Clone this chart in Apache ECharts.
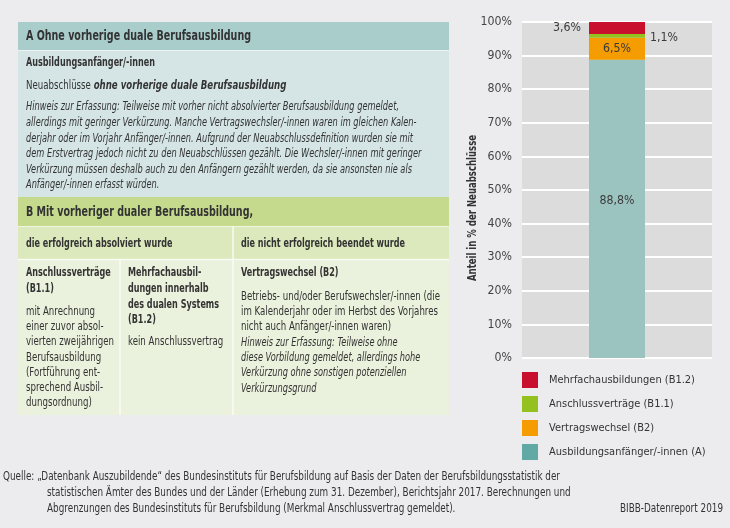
<!DOCTYPE html>
<html><head><meta charset="utf-8">
<script src="https://cdn.jsdelivr.net/npm/echarts@6/dist/echarts.min.js"></script>
<style>html,body{margin:0;padding:0;background:#ececee;}#c{width:730px;height:528px;}</style>
</head><body><div id="c"></div>
<script>
// ---- data ----
const categories = ['2017'];
const seriesNames = ['Ausbildungsanfänger/-innen (A)', 'Vertragswechsel (B2)', 'Anschlussverträge (B1.1)', 'Mehrfachausbildungen (B1.2)'];
const shareA = [88.8];
const shareB2 = [6.5];
const shareB11 = [1.1];
const shareB12 = [3.6];
const yTickStep = 10;
const yAxisTitle = 'Anteil in % der Neuabschlüsse';

// ---- text content of the table ----
const headA = 'A Ohne vorherige duale Berufsausbildung';
const subA = 'Ausbildungsanfänger/-innen';
const neuA = ['Neuabschlüsse ', 'ohne vorherige duale Berufsausbildung'];
const hinweisA = [
  'Hinweis zur Erfassung: Teilweise mit vorher nicht absolvierter Berufsausbildung gemeldet,',
  'allerdings mit geringer Verkürzung. Manche Vertragswechsler/-innen waren im gleichen Kalen-',
  'derjahr oder im Vorjahr Anfänger/-innen. Aufgrund der Neuabschlussdefinition wurden sie mit',
  'dem Erstvertrag jedoch nicht zu den Neuabschlüssen gezählt. Die Wechsler/-innen mit geringer',
  'Verkürzung müssen deshalb auch zu den Anfängern gezählt werden, da sie ansonsten nie als',
  'Anfänger/-innen erfasst würden.'
];
const headB = 'B Mit vorheriger dualer Berufsausbildung,';
const subB1 = 'die erfolgreich absolviert wurde';
const subB2 = 'die nicht erfolgreich beendet wurde';
const col1Bold = ['Anschlussverträge', '(B1.1)'];
const col1Text = ['mit Anrechnung', 'einer zuvor absol-', 'vierten zweijährigen', 'Berufsausbildung', '(Fortführung ent-', 'sprechend Ausbil-', 'dungsordnung)'];
const col2Bold = ['Mehrfachausbil-', 'dungen innerhalb', 'des dualen Systems', '(B1.2)'];
const col2Text = ['kein Anschlussvertrag'];
const col3Bold = ['Vertragswechsel (B2)'];
const col3Text = ['Betriebs- und/oder Berufswechsler/-innen (die', 'im Kalenderjahr oder im Herbst des Vorjahres', 'nicht auch Anfänger/-innen waren)'];
const col3Ital = ['Hinweis zur Erfassung: Teilweise ohne', 'diese Vorbildung gemeldet, allerdings hohe', 'Verkürzung ohne sonstigen potenziellen', 'Verkürzungsgrund'];
const sourceFirst = 'Quelle: „Datenbank Auszubildende“ des Bundesinstituts für Berufsbildung auf Basis der Daten der Berufsbildungsstatistik der';
const sourceLines = [
  'statistischen Ämter des Bundes und der Länder (Erhebung zum 31. Dezember), Berichtsjahr 2017. Berechnungen und',
  'Abgrenzungen des Bundesinstituts für Berufsbildung (Merkmal Anschlussvertrag gemeldet).'
];
const credit = 'BIBB-Datenreport 2019';

// ---- styling ----
const FF = "'Liberation Sans Narrow','DejaVu Sans Condensed','Roboto Condensed',sans-serif";
const TXT = '#333333';
const colors = {A: '#9bc4c1', B2: '#f59c00', B11: '#95c11f', B12: '#c8102e', Aleg: '#62a8a5'};

// text width measuring (to mimic the condensed original typeface)
const mctx = document.createElement('canvas').getContext('2d');
function mw(font, s) { mctx.font = font; return mctx.measureText(s).width; }
const F = {
  head: 'bold 14px ' + FF,
  bold: 'bold 11.5px ' + FF,
  reg: 'normal 11.5px ' + FF,
  ital: 'italic normal 11.5px ' + FF,
  src: 'normal 12px ' + FF,
  ytitle: 'bold 12.5px ' + FF
};
const SX = {
  head: 225 / mw(F.head, headA),
  bold: 164 / mw(F.bold, subB2),
  reg: 199 / mw(F.reg, col3Text[0]),
  ital: 373 / mw(F.ital, hinweisA[0]),
  src: 557 / mw(F.src, sourceFirst),
  ytitle: 146 / mw(F.ytitle, yAxisTitle)
};

function t(x, y, s, kind, align) {
  return {
    type: 'text', silent: true, x: x, y: y, scaleX: Math.min(1, SX[kind]),
    style: {x: 0, y: 0, text: s, fill: TXT, font: F[kind], textVerticalAlign: 'middle', textAlign: align || 'left'}
  };
}
function r(x, y, w, h, fill) {
  return {type: 'rect', silent: true, shape: {x: x, y: y, width: w, height: h}, style: {fill: fill}};
}
function l(x1, y1, x2, y2, c, w) {
  return {type: 'line', silent: true, shape: {x1: x1, y1: y1, x2: x2, y2: y2}, style: {stroke: c, lineWidth: w}};
}

const G = [];
const TL = 18, TR = 449, TW = TR - TL;
G.push(r(TL, 22, TW, 28, '#a9cdcb'));
G.push(r(TL, 50, TW, 147, '#d5e5e5'));
G.push(r(TL, 197, TW, 29, '#c6da8e'));
G.push(r(TL, 226, TW, 33, '#dce9bd'));
G.push(r(TL, 259, TW, 156, '#eaf1dc'));
G.push(l(TL, 50.5, TR, 50.5, 'rgba(255,255,255,0.55)', 1));
G.push(l(TL, 226.5, TR, 226.5, 'rgba(255,255,255,0.55)', 1));
G.push(l(TL, 259.5, TR, 259.5, 'rgba(255,255,255,0.7)', 1.5));
G.push(l(233, 226, 233, 415, 'rgba(255,255,255,0.8)', 1.5));
G.push(l(120, 259, 120, 415, 'rgba(255,255,255,0.8)', 1.5));

G.push(t(26, 36, headA, 'head'));
G.push(t(26, 63, subA, 'bold'));
G.push({type: 'text', silent: true, x: 26, y: 86, scaleX: Math.min(1, SX.reg),
  style: {x: 0, y: 0, textVerticalAlign: 'middle',
  text: '{r|' + neuA[0] + '}{b|' + neuA[1] + '}',
  rich: {r: {font: F.reg, fill: TXT}, b: {font: 'italic bold 11.5px ' + FF, fill: TXT}}}});
hinweisA.forEach((s, i) => G.push(t(26, 107.5 + i * 15.6, s, 'ital')));

G.push(t(26, 212, headB, 'head'));
G.push(t(26, 244, subB1, 'bold'));
G.push(t(241, 244, subB2, 'bold'));
col1Bold.forEach((s, i) => G.push(t(26, 273 + i * 16.5, s, 'bold')));
col1Text.forEach((s, i) => G.push(t(26, 312 + i * 15.2, s, 'reg')));
col2Bold.forEach((s, i) => G.push(t(128, 273 + i * 15.8, s, 'bold')));
col2Text.forEach((s, i) => G.push(t(128, 342 + i * 15.2, s, 'reg')));
col3Bold.forEach((s, i) => G.push(t(241, 273 + i * 16, s, 'bold')));
col3Text.forEach((s, i) => G.push(t(241, 297 + i * 15.2, s, 'reg')));
col3Ital.forEach((s, i) => G.push(t(241, 343 + i * 15.2, s, 'ital')));

// y axis title (rotated)
G.push({type: 'text', silent: true, x: 473, y: 208, rotation: Math.PI / 2, scaleX: Math.min(1, SX.ytitle),
  style: {x: 0, y: 0, text: yAxisTitle, fill: TXT, font: F.ytitle, textAlign: 'center', textVerticalAlign: 'middle'}});

// source + credit
G.push(t(3, 477, sourceFirst, 'src'));
sourceLines.forEach((s, i) => G.push(t(47, 493 + i * 16, s, 'src')));
G.push(t(723, 509, credit, 'src', 'right'));

// font sizes for library-drawn texts (compromise between width and height of the condensed original)
const legendFont = Math.min(12.5, 12.5 * 146 / mw('12.5px ' + FF, seriesNames[3]));
const axisFont = Math.min(13, 13 * 31.5 / mw('13px ' + FF, '100%'));
const barFont = Math.min(13, 13 * 35 / mw('13px ' + FF, '88,8%'));

const fmt = v => v.toFixed(1).replace('.', ',') + '%';
const lblBase = {show: true, color: '#3a3a3a', fontSize: barFont, fontFamily: FF, formatter: p => fmt(p.value)};

const chart = echarts.init(document.getElementById('c'), null, {renderer: 'canvas'});
chart.setOption({
  backgroundColor: '#ececee',
  animation: false,
  grid: {left: 522, right: 18, top: 22, bottom: 170, show: true, backgroundColor: '#dcdcdc', borderWidth: 0},
  xAxis: {type: 'category', data: categories, axisLine: {show: false}, axisTick: {show: false}, axisLabel: {show: false}},
  yAxis: {type: 'value', min: 0, max: 100, interval: yTickStep,
    axisLine: {show: false}, axisTick: {show: false},
    axisLabel: {formatter: '{value}%', color: '#444', fontSize: axisFont, fontFamily: FF, margin: 10},
    splitLine: {show: true, lineStyle: {color: '#ffffff', width: 2}}},
  legend: {orient: 'vertical', left: 522, top: 372, padding: 0, itemWidth: 16, itemHeight: 16, itemGap: 8, icon: 'rect',
    textStyle: {color: TXT, fontSize: legendFont, fontFamily: FF, padding: [0, 0, 0, 6]},
    data: [
      {name: seriesNames[3]}, {name: seriesNames[2]}, {name: seriesNames[1]},
      {name: seriesNames[0], itemStyle: {color: colors.Aleg}}
    ], selectedMode: false},
  graphic: {elements: G},
  series: [
    {name: seriesNames[0], type: 'bar', stack: 's', data: shareA, barWidth: 56, itemStyle: {color: colors.A},
      label: Object.assign({}, lblBase, {position: 'inside', offset: [0, -8]})},
    {name: seriesNames[1], type: 'bar', stack: 's', data: shareB2, itemStyle: {color: colors.B2},
      label: Object.assign({}, lblBase, {position: 'inside'})},
    {name: seriesNames[2], type: 'bar', stack: 's', data: shareB11, itemStyle: {color: colors.B11},
      label: Object.assign({}, lblBase, {position: 'right', distance: 5, offset: [0, 2]})},
    {name: seriesNames[3], type: 'bar', stack: 's', data: shareB12, itemStyle: {color: colors.B12},
      label: Object.assign({}, lblBase, {position: 'left', distance: 8})}
  ]
});
</script></body></html>
